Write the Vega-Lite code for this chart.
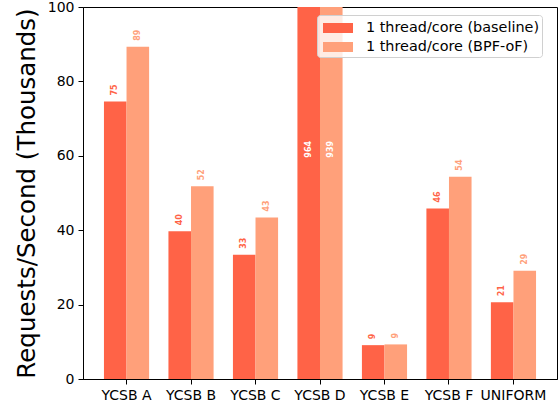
{
  "$schema": "https://vega.github.io/schema/vega-lite/v6.json",
  "width": 474,
  "height": 372,
  "autosize": {"type": "none"},
  "padding": {"left": 83, "top": 7, "right": 3, "bottom": 27},
  "config": {
    "font": "DejaVu Sans",
    "view": {"stroke": "black", "strokeWidth": 1},
    "axis": {"grid": false, "domainColor": "black", "tickColor": "black", "labelColor": "black", "titleColor": "black", "labelFont": "DejaVu Sans", "titleFont": "DejaVu Sans", "labelFontSize": 14, "tickSize": 5, "labelPadding": 4, "domainWidth": 1, "tickWidth": 1}
  },
  "data": {
    "values": [
      {"workload": "YCSB A", "config": "1 thread/core (baseline)", "value": 74.6},
      {"workload": "YCSB A", "config": "1 thread/core (BPF-oF)", "value": 89.3},
      {"workload": "YCSB B", "config": "1 thread/core (baseline)", "value": 39.7},
      {"workload": "YCSB B", "config": "1 thread/core (BPF-oF)", "value": 51.8},
      {"workload": "YCSB C", "config": "1 thread/core (baseline)", "value": 33.4},
      {"workload": "YCSB C", "config": "1 thread/core (BPF-oF)", "value": 43.4},
      {"workload": "YCSB D", "config": "1 thread/core (baseline)", "value": 964},
      {"workload": "YCSB D", "config": "1 thread/core (BPF-oF)", "value": 939},
      {"workload": "YCSB E", "config": "1 thread/core (baseline)", "value": 9.1},
      {"workload": "YCSB E", "config": "1 thread/core (BPF-oF)", "value": 9.3},
      {"workload": "YCSB F", "config": "1 thread/core (baseline)", "value": 45.8},
      {"workload": "YCSB F", "config": "1 thread/core (BPF-oF)", "value": 54.4},
      {"workload": "UNIFORM", "config": "1 thread/core (baseline)", "value": 20.6},
      {"workload": "UNIFORM", "config": "1 thread/core (BPF-oF)", "value": 29.1}
    ]
  },
  "encoding": {
    "x": {
      "field": "workload", "type": "nominal", "sort": null,
      "scale": {"paddingInner": 0.3, "paddingOuter": 0.325},
      "axis": {"title": null, "labelAngle": 0}
    },
    "xOffset": {"field": "config", "type": "nominal", "scale": {"domain": ["1 thread/core (baseline)", "1 thread/core (BPF-oF)"], "paddingInner": 0, "paddingOuter": 0}}
  },
  "layer": [
    {
      "mark": {"type": "bar", "clip": true},
      "encoding": {
        "y": {
          "field": "value", "type": "quantitative",
          "scale": {"domain": [0, 100], "clamp": true, "nice": false},
          "axis": {"values": [0, 20, 40, 60, 80, 100], "title": "Requests/Second (Thousands)", "titleFontSize": 24.5, "titleFontWeight": "normal", "titleX": -56, "titleY": 186, "titleAngle": 270, "titleAlign": "center", "titleBaseline": "middle"}
        },
        "color": {
          "field": "config", "type": "nominal",
          "scale": {"domain": ["1 thread/core (baseline)", "1 thread/core (BPF-oF)"], "range": ["#FF6347", "#FFA07A"]},
          "legend": {
            "title": null, "orient": "none", "legendX": 234, "legendY": 8,
            "symbolType": "M-1.5,-0.5H1.5V0.5H-1.5Z", "symbolSize": 400, "symbolStrokeWidth": 0, "symbolOffset": 8,
            "labelFontSize": 14.4, "labelFont": "DejaVu Sans", "labelColor": "black", "labelOffset": 18, "labelLimit": 400,
            "padding": 3, "rowPadding": 2,
            "fillColor": "rgba(255,255,255,0.8)", "strokeColor": "#d0d0d0", "cornerRadius": 3
          }
        }
      }
    },
    {
      "transform": [{"filter": "datum.value <= 100"}],
      "mark": {"type": "text", "angle": 270, "align": "left", "baseline": "middle", "dx": 6, "fontSize": 8, "fontWeight": "bold"},
      "encoding": {
        "y": {"field": "value", "type": "quantitative"},
        "text": {"field": "value", "type": "quantitative", "format": ".0f"},
        "color": {"field": "config", "type": "nominal", "legend": null}
      }
    },
    {
      "transform": [{"filter": "datum.value > 100"}],
      "mark": {"type": "text", "angle": 270, "align": "left", "baseline": "middle", "dx": 0, "fontSize": 8, "fontWeight": "bold", "color": "white"},
      "encoding": {
        "y": {"datum": 59.5},
        "text": {"field": "value", "type": "quantitative", "format": ".0f"}
      }
    }
  ]
}
